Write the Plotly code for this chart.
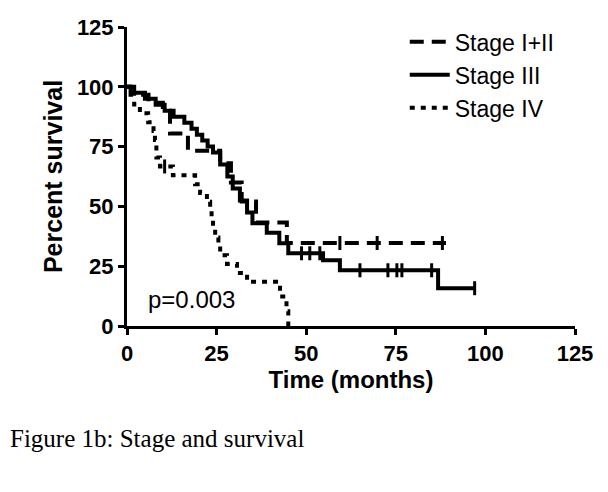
import plotly.graph_objects as go

# Kaplan-Meier step curves (time in months, percent survival)
stage12_t = [0, 1, 6, 10, 12, 17, 26, 29, 32, 36, 44.6, 89]
stage12_s = [100, 96.7, 93.3, 90, 80.5, 73.3, 68, 60, 52, 43.3, 34.7, 34.7]
stage12_cens_t = [59.4, 69.8, 88]
stage12_cens_s = [34.7, 34.7, 34.7]

stage3_t = [0, 2, 5, 8, 10.5, 13, 16, 18, 19.5, 21, 22.5, 24, 26, 28, 29.5,
            31.5, 33.5, 35, 39, 42.5, 45, 54.7, 59.4, 86.8, 97]
stage3_s = [100, 97.5, 95, 92.5, 90, 87.5, 85, 82.5, 80, 77.5, 75, 72.5, 67.5,
            62.5, 57.5, 52.5, 47.5, 43, 39, 34.6, 30.4, 27.5, 23.3, 15.8, 15.8]
stage3_cens_t = [48.7, 51, 53.8, 65, 72.8, 75.3, 76.7, 85, 97]
stage3_cens_s = [30.4, 30.4, 30.4, 23.3, 23.3, 23.3, 23.3, 23.3, 15.8]

stage4_t = [0, 2, 3.6, 5.9, 7.4, 7.8, 8.2, 9.2, 12.8, 19, 20.4, 22.3, 23.2,
            23.6, 24, 24.6, 25.5, 26, 27.9, 30.7, 33.5, 42.7, 44.5, 45]
stage4_s = [100, 92.6, 88.9, 85.2, 81.5, 77.8, 70.4, 66.7, 63, 59.3, 55.6,
            51.9, 48.1, 44.4, 40.7, 37, 33.3, 29.6, 25.9, 22.2, 18.5, 12.3,
            6.2, 0]
stage4_cens_t = [10.5]
stage4_cens_s = [66.7]

x_ticks = [0, 25, 50, 75, 100, 125]
y_ticks = [0, 25, 50, 75, 100, 125]

series = [
    ("Stage I+II", stage12_t, stage12_s, stage12_cens_t, stage12_cens_s, "14px,8px"),
    ("Stage III", stage3_t, stage3_s, stage3_cens_t, stage3_cens_s, "solid"),
    ("Stage IV", stage4_t, stage4_s, stage4_cens_t, stage4_cens_s, "5px,6px"),
]

fig = go.Figure()
for name, t, s, ct, cs, dash in series:
    fig.add_scatter(
        x=t, y=s, name=name, mode="lines", line_shape="hv",
        line=dict(color="black", width=4, dash=dash),
    )
    fig.add_scatter(
        x=ct, y=cs, mode="markers", showlegend=False, hoverinfo="skip",
        marker=dict(symbol="line-ns", size=10, line=dict(color="black", width=3)),
    )

bold = dict(family="Liberation Sans", size=22, color="black", weight="bold")
title_font = dict(family="Liberation Sans", size=24, color="black", weight="bold")
axis = dict(
    range=[0, 125], showgrid=False, zeroline=False,
    showline=True, linecolor="black", linewidth=3,
    ticks="outside", ticklen=6, tickwidth=3, tickcolor="black",
    tickfont=bold,
)
fig.update_xaxes(**axis, tickvals=x_ticks,
                 title=dict(text="Time (months)", standoff=4, font=title_font))
fig.update_yaxes(**axis, tickvals=y_ticks,
                 title=dict(text="Percent survival", standoff=8,
                            font=dict(title_font, size=25)))

fig.add_annotation(x=18, y=11, text="p=0.003", showarrow=False,
                   font=dict(family="Liberation Sans", size=24, color="black"))
# page has an 8px body margin, so the figure's left edge sits at x=8
fig.add_annotation(xref="paper", yref="paper", x=-0.2656, y=-0.3746,
                   xanchor="left", yanchor="middle", showarrow=False,
                   text="Figure 1b: Stage and survival",
                   font=dict(family="Liberation Serif", size=25, color="black"))

fig.update_layout(
    width=608, height=492,
    margin=dict(l=119, r=41, t=19, b=174, autoexpand=False),
    plot_bgcolor="white", paper_bgcolor="white",
    legend=dict(x=0.62, y=1.022, xanchor="left", yanchor="top",
                bgcolor="rgba(0,0,0,0)", tracegroupgap=0, itemwidth=40,
                font=dict(family="Liberation Sans", size=23, color="black")),
)

fig.write_html("out.html")
